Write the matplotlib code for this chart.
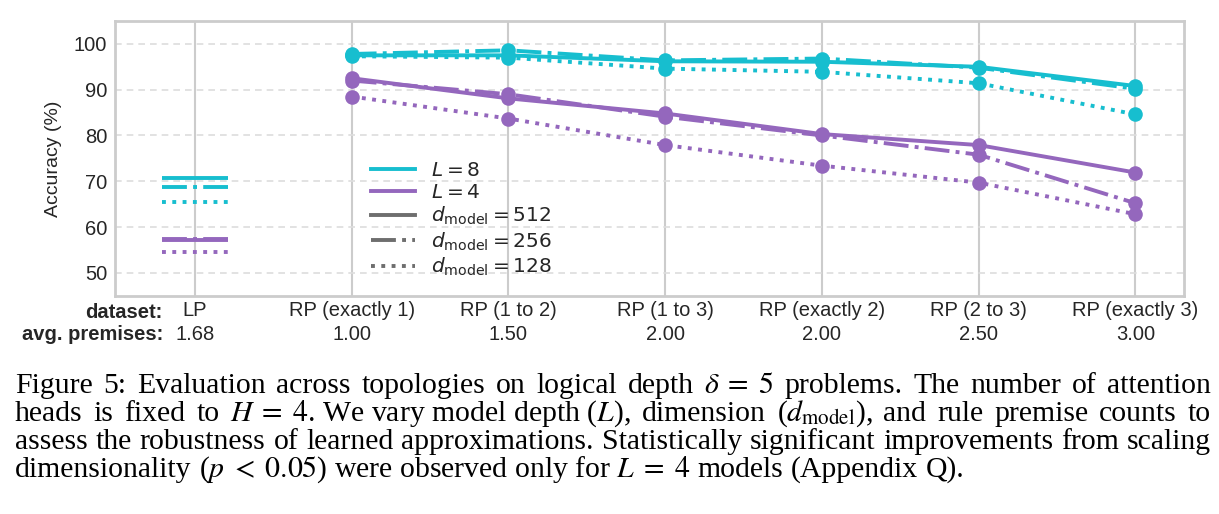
import re
import numpy as np
import matplotlib
matplotlib.use("Agg")
import matplotlib.pyplot as plt
from matplotlib.lines import Line2D
import matplotlib.transforms as mtransforms

# ---------------- data ----------------
categories = ["LP", "RP (exactly 1)", "RP (1 to 2)", "RP (1 to 3)",
              "RP (exactly 2)", "RP (2 to 3)", "RP (exactly 3)"]
avg_premises = ["1.68", "1.00", "1.50", "2.00", "2.00", "2.50", "3.00"]

L8_d512 = [70.7, 97.5, 97.5, 96.2, 96.1, 95.0, 90.8]
L8_d256 = [68.8, 97.8, 98.6, 96.4, 96.8, 94.8, 90.2]
L8_d128 = [65.4, 97.3, 97.0, 94.6, 93.9, 91.4, 84.6]
L4_d512 = [57.2, 92.5, 88.1, 84.8, 80.3, 77.9, 71.9]
L4_d256 = [57.3, 92.0, 89.0, 84.1, 80.0, 75.8, 65.2]
L4_d128 = [54.6, 88.5, 83.7, 77.9, 73.4, 69.7, 62.8]

yticks = [50, 60, 70, 80, 90, 100]

caption_lines = [
    r"Figure 5: Evaluation across topologies on logical depth $\delta\;=\;5$ problems. The number of attention",
    r"heads is fixed to $H\;=\;4$. We vary model depth ($L$), dimension ($d_{\mathrm{model}}$), and rule premise counts to",
    r"assess the robustness of learned approximations. Statistically significant improvements from scaling",
    r"dimensionality ($p\;<\;0.05$) were observed only for $L\;=\;4$ models (Appendix Q).",
]

# ---------------- style ----------------
plt.rcParams['font.family'] = ['Liberation Sans', 'DejaVu Sans']
plt.rcParams['mathtext.fontset'] = 'dejavusans'

CYAN = "#17becf"
PURPLE = "#9467bd"
GRAY = "#6e6e6e"
TXT = "#262626"
FS = 14.5

W, H = 1219, 514
fig = plt.figure(figsize=(W / 100, H / 100), dpi=100)
ax_l, ax_r, ax_t, ax_b = 115, 1184, 21, 295.7
ax = fig.add_axes([ax_l / W, 1 - ax_b / H, (ax_r - ax_l) / W, (ax_b - ax_t) / H])

x = np.arange(len(categories))
lw = 2.8
ms = 10.5
series = [
    (L8_d512, CYAN, '-'), (L8_d256, CYAN, '-.'), (L8_d128, CYAN, ':'),
    (L4_d512, PURPLE, '-'), (L4_d256, PURPLE, '-.'), (L4_d128, PURPLE, ':'),
]
half = 0.21
for vals, col, ls in series[::-1]:
    # LP: short horizontal segment
    ax.hlines(vals[0], x[0] - half, x[0] + half, colors=col, linestyles=ls, lw=lw, zorder=3)
    # RP: connected line with markers
    ax.plot(x[1:], vals[1:], color=col, linestyle=ls, lw=lw, marker='o',
            markersize=ms, markeredgewidth=0, zorder=3)

ax.set_xlim(-0.51, 6.31)
ax.set_ylim(45, 105)
ax.set_yticks(yticks)
ax.set_xticks(x)
ax.set_xticklabels(categories)
ax.tick_params(axis='both', length=0, labelsize=FS, colors=TXT)
ax.tick_params(axis='y', pad=5.5)
ax.tick_params(axis='x', pad=4)

ax.grid(axis='x', color='#cccccc', lw=1.5, ls='-', zorder=0)
ax.grid(axis='y', color='#dddddd', lw=1.2, ls=(0, (4, 3)), zorder=0)
ax.set_axisbelow(True)
for s in ax.spines.values():
    s.set_color('#cccccc')
    s.set_linewidth(2)

ax.set_ylabel("Accuracy (%)", fontsize=FS - 0.5, color=TXT, va='center')
ax.yaxis.set_label_coords((53 - ax_l) / (ax_r - ax_l), 0.5)

# second row of x labels: avg. premises
trans = mtransforms.blended_transform_factory(ax.transData, ax.transAxes)
y_row2 = (ax_b - 334) / (ax_b - ax_t)
for xi, p in zip(x, avg_premises):
    ax.text(xi, y_row2, p, transform=trans, ha='center', va='center',
            fontsize=FS, color=TXT)
ax.text(163 / W, 1 - 312.7 / H, "dataset:", transform=fig.transFigure, ha='right',
        va='center', fontsize=FS, fontweight='bold', color=TXT)
ax.text(163 / W, 1 - 334 / H, "avg. premises:", transform=fig.transFigure, ha='right',
        va='center', fontsize=FS, fontweight='bold', color=TXT)

# legend
handles = [
    Line2D([], [], color=CYAN, lw=lw),
    Line2D([], [], color=PURPLE, lw=lw),
    Line2D([], [], color=GRAY, lw=lw, ls='-'),
    Line2D([], [], color=GRAY, lw=lw, ls='-.'),
    Line2D([], [], color=GRAY, lw=lw, ls=':'),
]
labels = [r"$L = 8$", r"$L = 4$", r"$d_{\mathrm{model}} = 512$",
          r"$d_{\mathrm{model}} = 256$", r"$d_{\mathrm{model}} = 128$"]
leg = ax.legend(handles, labels, loc='upper left',
                bbox_to_anchor=((365 - ax_l) / (ax_r - ax_l), 1 - (155 - ax_t) / (ax_b - ax_t)),
                frameon=False, fontsize=FS, handlelength=2.2, handletextpad=0.8,
                labelspacing=0.15, borderpad=0.3, borderaxespad=0)
for t in leg.get_texts():
    t.set_color(TXT)

# ---------------- caption (justified) ----------------
renderer = fig.canvas.get_renderer()
cap_x0, cap_x1 = 15, 1211
cap_font = 'Liberation Serif'

def make(tok, fs):
    return fig.text(0, 0, tok, fontsize=fs, family=cap_font, math_fontfamily='stix',
                    ha='left', va='baseline', color='black')

def tokens(line):
    return re.findall(r'\S*\$[^$]*\$\S*|\S+', line)

# calibrate font size so the widest line fits with normal inter-word spaces
def natural_width(line, fs):
    objs = [make(t, fs) for t in tokens(line)]
    w = sum(o.get_window_extent(renderer).width for o in objs)
    for o in objs:
        o.remove()
    return w + (len(objs) - 1) * fs * 100 / 72 * 0.25

cap_fs = min(10 * (cap_x1 - cap_x0 - 4) / natural_width(l, 10) for l in caption_lines[:3])

baselines = [393, 421, 449, 477]
for i, line in enumerate(caption_lines):
    toks = tokens(line)
    objs = [make(t, cap_fs) for t in toks]
    widths = [o.get_window_extent(renderer).width for o in objs]
    if i < len(caption_lines) - 1:
        gap = (cap_x1 - cap_x0 - sum(widths)) / (len(toks) - 1)
    else:
        gap = cap_fs * 100 / 72 * 0.25
    xp = cap_x0
    for o, w in zip(objs, widths):
        o.set_position((xp / W, 1 - baselines[i] / H))
        xp += w + gap

fig.savefig("out.png", dpi=100)
